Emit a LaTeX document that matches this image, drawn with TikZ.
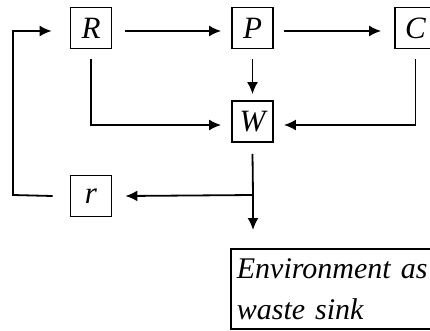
\documentclass[tikz,border=0pt]{standalone}
\usepackage{fontspec}
\setmainfont{Liberation Serif}
\usetikzlibrary{arrows.meta}
\begin{document}
\begin{tikzpicture}[x=1pt,y=-1pt,
  box/.style={draw, line width=1.8pt, minimum width=41pt, minimum height=41pt, inner sep=0pt,
    font=\fontsize{31}{34}\selectfont\itshape},
  arr/.style={line width=1.8pt, -{Latex[length=12pt,width=11pt]}},
  ln/.style={line width=1.8pt}]
\useasboundingbox (0,0) rectangle (430,330);
\node[box] (R) at (91,28) {R};
\node[box] (P) at (252.5,28) {P};
\node[box] (C) at (415.5,28) {C};
\node[box] (W) at (252.5,121.5) {W};
\node[box] (r) at (91,196) {r};
\node[draw, line width=1.8pt, anchor=north west, minimum width=206pt, minimum height=80pt,
  text width=196pt, inner xsep=6pt, inner ysep=1pt, align=left, font=\fontsize{30}{41}\selectfont\itshape]
  (E) at (230,248) {Environment as\\waste sink};
\coordinate (b) at (253,195);
\coordinate (l1) at (13,195);
\coordinate (l2) at (13,31);
\draw[arr] ([xshift=13pt,yshift=-3pt]R.east) -- ([xshift=-10pt,yshift=-3pt]P.west);
\draw[arr] ([xshift=10pt,yshift=-3pt]P.east) -- ([xshift=-13pt,yshift=-3pt]C.west);
\draw[arr] ([yshift=-10pt]P.south) -- ([yshift=6pt]W.north);
\draw[arr] ([yshift=-10pt]R.south) |- ([xshift=-10pt,yshift=-3.5pt]W.west);
\draw[arr] ([yshift=-10pt]C.south) |- ([xshift=10pt,yshift=-3.5pt]W.east);
\draw[ln] ([yshift=-11pt]W.south) -- (b);
\draw[arr] (b) -- ([xshift=13pt]r.east);
\draw[arr] (b) -- ([yshift=18pt]E.north -| b);
\draw[arr] ([xshift=-17pt]r.west) -- (l1) -- (l2) -- ([xshift=-18pt,yshift=-3pt]R.west);
\end{tikzpicture}
\end{document}
